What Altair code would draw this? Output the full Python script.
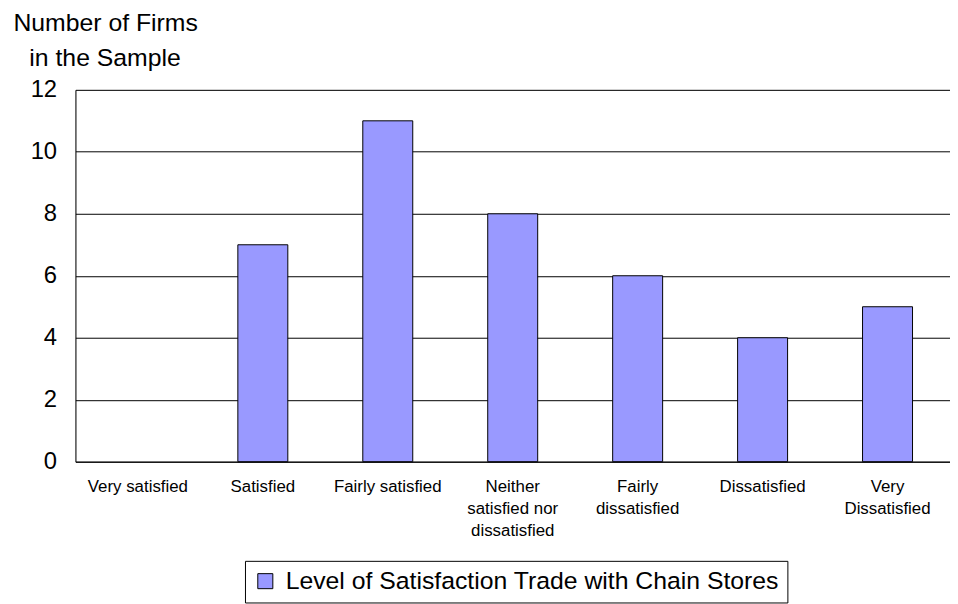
import altair as alt
import pandas as pd

categories = ["Very satisfied", "Satisfied", "Fairly satisfied",
              "Neither|satisfied nor|dissatisfied", "Fairly|dissatisfied",
              "Dissatisfied", "Very|Dissatisfied"]
counts = [0, 7, 11, 8, 6, 4, 5]
series_name = "Level of Satisfaction Trade with Chain Stores"
y_ticks = [0, 2, 4, 6, 8, 10, 12]

df = pd.DataFrame({"category": categories, "count": counts,
                   "series": [series_name] * len(categories)})

FONT = "Liberation Sans"

bars = alt.Chart(df).mark_bar(stroke="#000000", strokeWidth=1).encode(
    x=alt.X("category:N", sort=categories,
            scale=alt.Scale(paddingInner=0.6, paddingOuter=0.3),
            axis=alt.Axis(title="Number of Firms", titleAngle=0,
                          titleAlign="left", titleBaseline="alphabetic",
                          titleX=-63, titleY=-435, titleFontSize=25,
                          titleFont=FONT, titleFontWeight="normal",
                          titleColor="#000000",
                          labelAngle=0, labelFontSize=17,
                          labelColor="#000000", labelFont=FONT,
                          labelExpr="split(datum.label, '|')",
                          labelLineHeight=22, labelPadding=17,
                          ticks=False, domainColor="#000000",
                          labelBaseline="top")),
    y=alt.Y("count:Q", scale=alt.Scale(domain=[0, 12], nice=False),
            axis=alt.Axis(title="in the Sample", titleAngle=0,
                          titleAlign="left", titleBaseline="alphabetic",
                          titleX=-47, titleY=-25, titleFontSize=25,
                          titleFont=FONT, titleFontWeight="normal",
                          titleColor="#000000",
                          values=y_ticks, labelFontSize=24,
                          labelColor="#000000", labelFont=FONT,
                          labelPadding=19, ticks=False,
                          grid=True, gridColor="#000000", gridWidth=1,
                          domainColor="#000000")),
    strokeOpacity=alt.condition(alt.datum.count > 0, alt.value(1), alt.value(0)),
    color=alt.Color("series:N",
                    scale=alt.Scale(range=["#9999FF"]),
                    legend=alt.Legend(title=None, orient="none",
                                      legendX=171, legendY=475,
                                      labelFontSize=25, labelFont=FONT,
                                      labelColor="#000000",
                                      symbolType="square", symbolSize=230,
                                      symbolStrokeColor="#000000",
                                      symbolStrokeWidth=1,
                                      strokeColor="#000000", padding=8,
                                      labelLimit=1000, labelOffset=8)),
)

chart = bars.properties(
    width=882, height=375,
    padding={"left": 68, "top": 80, "right": 0, "bottom": 141},
    autosize=alt.AutoSizeParams(type="none"),
).configure_view(stroke=None).configure(background="#ffffff")

chart.save("out.html", embed_options={"renderer": "svg", "actions": False})
